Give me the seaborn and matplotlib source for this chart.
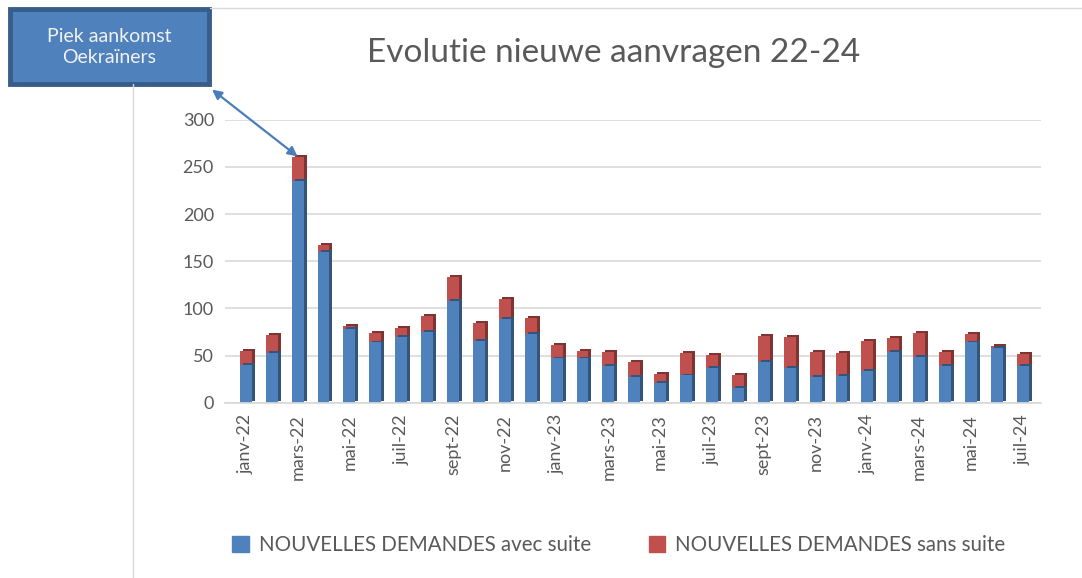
import numpy as np
import pandas as pd
import matplotlib
matplotlib.use("Agg")
import matplotlib.pyplot as plt
import matplotlib.patheffects as pe
from matplotlib.lines import Line2D
from matplotlib.patches import Rectangle
import seaborn as sns

# Data
months = ["janv-22", "févr-22", "mars-22", "avr-22", "mai-22", "juin-22", "juil-22", "août-22",
          "sept-22", "oct-22", "nov-22", "déc-22",
          "janv-23", "févr-23", "mars-23", "avr-23", "mai-23", "juin-23", "juil-23", "août-23",
          "sept-23", "oct-23", "nov-23", "déc-23",
          "janv-24", "févr-24", "mars-24", "avr-24", "mai-24", "juin-24", "juil-24"]
avec_suite = [40, 53, 235, 160, 78, 64, 70, 75, 108, 66, 89, 73,
              47, 47, 39, 27, 21, 29, 37, 16, 43, 37, 27, 28,
              34, 54, 49, 39, 64, 58, 39]
sans_suite = [15, 19, 25, 7, 3, 10, 9, 17, 25, 19, 21, 17,
              14, 8, 15, 16, 10, 24, 14, 14, 28, 33, 27, 25,
              32, 15, 25, 15, 9, 2, 13]
y_ticks = [0, 50, 100, 150, 200, 250, 300]

df = pd.DataFrame({"maand": months, "avec": avec_suite, "sans": sans_suite})
df["totaal"] = df["avec"] + df["sans"]

blue = "#4F81BD"
red = "#C0504D"
grey_txt = "#595959"

sns.set_theme(style="white")
plt.rcParams["font.family"] = ["Lato", "DejaVu Sans"]

fig = plt.figure(figsize=(10.82, 5.78), dpi=100)
ax = fig.add_axes([0.208, 0.303, 0.754, 0.49])

# stacked bars: total in red first, then blue on top
sns.barplot(data=df, x="maand", y="totaal", color=red, saturation=1, width=0.46, ax=ax,
            linewidth=0, edgecolor="none")
sns.barplot(data=df, x="maand", y="avec", color=blue, saturation=1, width=0.46, ax=ax,
            linewidth=0, edgecolor="none")

# fake 3D side faces
for p in ax.patches:
    fc = p.get_facecolor()
    dark = tuple(c * 0.65 for c in fc[:3])
    p.set_linewidth(0)
    p.set_path_effects([pe.SimplePatchShadow(offset=(2.2, 1.4), shadow_rgbFace=dark, alpha=1), pe.Normal()])

ax.set_ylim(0, 300)
ax.set_xlim(-0.8, 30.7)
ax.set_yticks(y_ticks)
ax.set_yticklabels([str(v) for v in y_ticks], fontsize=13, color=grey_txt)
ax.yaxis.grid(True, color="#D9D9D9", linewidth=1.2)
ax.set_axisbelow(True)
ax.set_xticks(range(0, len(months), 2))
ax.set_xticklabels(months[::2], rotation=90, fontsize=13, color=grey_txt)
ax.tick_params(axis="both", length=0, pad=8)
ax.set_xlabel("")
ax.set_ylabel("")
for s in ["top", "right", "left"]:
    ax.spines[s].set_visible(False)
ax.spines["bottom"].set_color("#D9D9D9")

fig.text(0.567, 0.908, "Evolutie nieuwe aanvragen 22-24", ha="center", va="center",
         fontsize=24, color=grey_txt)

handles = [Rectangle((0, 0), 1, 1, color=blue), Rectangle((0, 0), 1, 1, color=red)]
fig.legend(handles, ["NOUVELLES DEMANDES avec suite", "NOUVELLES DEMANDES sans suite"],
           loc="center", bbox_to_anchor=(0.572, 0.057), ncol=2, frameon=False,
           fontsize=14.8, handlelength=0.8, handleheight=0.8, columnspacing=2.8,
           handletextpad=0.5, labelcolor=grey_txt)

# chart frame remnants
fig.add_artist(Line2D([0.194, 1.0], [0.986, 0.986], color="#D9D9D9", lw=1))
fig.add_artist(Line2D([0.123, 0.123], [0.0, 0.855], color="#D9D9D9", lw=1))

# callout box
fig.add_artist(Rectangle((0.009, 0.855), 0.184, 0.129, transform=fig.transFigure,
                         facecolor=blue, edgecolor="#385D8A", lw=3.5))
fig.text(0.101, 0.919, "Piek aankomst\nOekraïners", ha="center", va="center",
         fontsize=14, color="#F2F2F2", linespacing=1.3)
ax.annotate("", xy=(2, df["totaal"][2] + 1), xycoords="data",
            xytext=(0.196, 0.845), textcoords="figure fraction",
            arrowprops=dict(arrowstyle="<|-|>", color="#4A7EBB", lw=1.6,
                            mutation_scale=14, shrinkA=0, shrinkB=0))

fig.savefig("out.png", dpi=100)
